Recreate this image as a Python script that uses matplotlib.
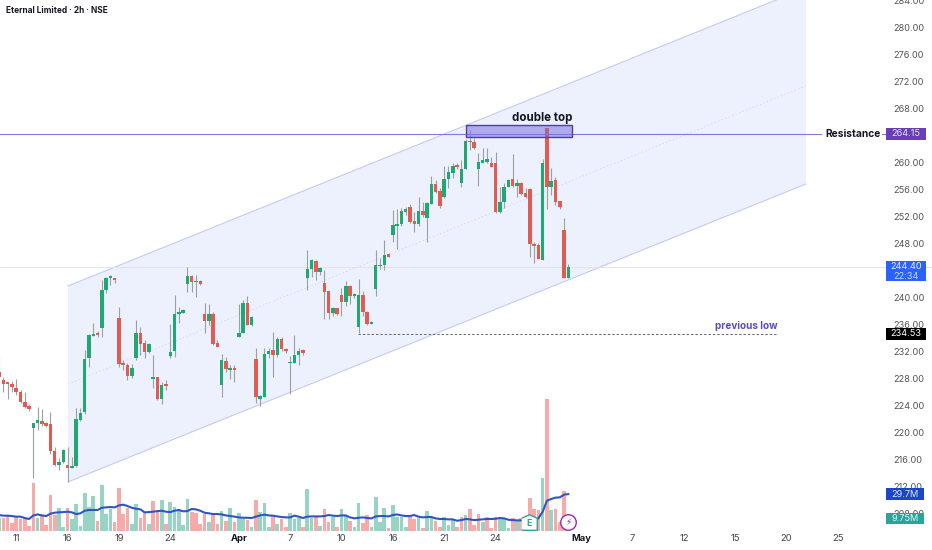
import matplotlib
matplotlib.use("Agg")
import matplotlib.pyplot as plt
from matplotlib.patches import Polygon, Rectangle

plt.rcParams['font.family'] = ['Inter', 'DejaVu Sans']

#Candles, one entry per 2h bar
######################################################################################################
highs = [231.06, 228.2, 227.36, 227.55, 227.9, 226.22, 225.93, 224.15, 221.38, 223.75,
         223.36, 221.53, 222.91, 217.83, 216.1, 217.43, 217.83, 216.35, 223.5, 223.5,
         232.15, 234.52, 236.1, 235.01, 242.52, 243.01, 243.26, 242.76, 238.47, 230.67,
         230.17, 230.02, 236.59, 235.6, 233.63, 233.14, 231.41, 228.2, 227.46, 227.7,
         235.95, 240.3, 238.47, 238.17, 244.49, 243.26, 243.26, 242.52, 239.06, 238.96,
         237.83, 233.63, 231.51, 231.16, 229.92, 229.92, 238.97, 239.56, 240.15, 237.19,
         232.4, 225.49, 232.4, 232.4, 234.77, 234.03, 234.03, 232.4, 231.26, 234.37,
         232.4, 232.25, 246.97, 245.58, 245.48, 244.5, 244.0, 240.94, 238.57, 238.32,
         241.39, 242.37, 241.78, 240.65, 242.62, 240.89, 237.98, 236.45, 246.97, 245.73,
         248.45, 246.47, 252.89, 252.99, 253.14, 253.29, 253.78, 252.65, 254.87, 254.13,
         254.13, 257.93, 257.34, 256.1, 259.41, 259.41, 259.81, 259.81, 260.3, 263.41,
         264.75, 263.51, 261.29, 262.03, 262.03, 260.8, 261.54, 256.35, 256.84, 257.44,
         261.19, 257.49, 257.09, 256.1, 256.1, 248.2, 247.96, 260.4, 265.09, 259.07,
         257.73, 254.28, 251.66, 244.89]
lows = [227.95, 225.97, 224.84, 225.97, 225.48, 224.25, 223.6, 223.16, 213.14, 220.3,
        220.94, 220.79, 216.74, 214.96, 214.37, 215.46, 212.64, 214.62, 214.86, 221.68,
        222.67, 229.68, 234.22, 234.02, 234.02, 240.54, 241.78, 242.12, 229.68, 229.18,
        227.7, 227.95, 230.67, 231.41, 231.01, 231.65, 226.47, 224.74, 224.15, 226.22,
        230.91, 231.06, 236.1, 237.58, 240.79, 240.69, 240.05, 241.78, 234.62, 235.85,
        232.89, 232.54, 225.24, 228.94, 227.85, 227.46, 234.03, 234.62, 235.86, 235.71,
        224.35, 223.86, 225.14, 231.02, 228.1, 231.07, 232.05, 231.76, 225.63, 230.18,
        229.93, 231.41, 241.04, 242.92, 242.52, 243.26, 236.69, 236.69, 237.19, 237.34,
        237.19, 238.67, 238.97, 239.9, 234.62, 237.19, 235.86, 235.95, 240.15, 244.15,
        244.0, 245.88, 248.2, 247.12, 250.52, 252.15, 250.92, 249.68, 250.52, 251.91,
        248.2, 253.78, 255.46, 253.14, 254.62, 256.2, 257.59, 258.97, 256.25, 258.97,
        261.78, 261.93, 256.45, 259.81, 259.91, 259.22, 252.5, 252.4, 253.14, 256.25,
        256.25, 254.77, 255.12, 254.62, 245.98, 245.0, 245.59, 245.49, 252.99, 255.12,
        253.64, 253.04, 242.77, 242.77]
opens = [228.94, 227.65, 227.21, 227.11, 226.47, 225.93, 224.49, 223.85, 220.64, 221.28,
         221.63, 221.38, 221.14, 217.19, 215.16, 215.56, 215.16, 214.67, 214.96, 221.78,
         222.91, 230.91, 234.27, 234.72, 235.41, 241.04, 242.86, 242.76, 236.89, 230.07,
         229.92, 228.3, 230.91, 234.67, 233.14, 231.8, 227.9, 228.1, 224.94, 227.01,
         231.26, 232.05, 237.43, 237.68, 241.88, 243.11, 242.17, 242.42, 237.53, 236.49,
         237.53, 233.14, 226.91, 230.52, 229.23, 229.48, 234.08, 234.72, 239.06, 235.86,
         230.82, 224.89, 225.24, 231.61, 232.1, 231.41, 233.78, 232.3, 230.18, 230.28,
         231.41, 232.1, 242.82, 244.1, 245.34, 243.66, 242.03, 240.89, 237.63, 238.32,
         240.35, 239.26, 241.63, 240.15, 235.61, 240.3, 237.83, 236.05, 241.24, 244.55,
         244.7, 246.33, 249.19, 250.57, 250.77, 252.65, 253.29, 251.22, 250.87, 252.7,
         251.76, 253.83, 256.7, 255.76, 254.87, 257.44, 258.42, 259.46, 256.94, 259.02,
         263.12, 262.92, 258.92, 259.91, 259.96, 259.91, 259.86, 252.65, 254.13, 256.35,
         257.49, 256.5, 256.94, 255.46, 255.96, 247.81, 247.66, 245.54, 264.99, 256.25,
         257.29, 254.18, 249.93, 242.87]
closes = [228.2, 227.06, 227.11, 226.62, 225.88, 224.49, 223.75, 223.36, 221.33, 221.73,
          221.23, 220.94, 217.19, 215.16, 215.61, 217.38, 214.62, 215.01, 221.98, 222.76,
          230.81, 234.32, 234.57, 234.37, 241.04, 242.86, 242.96, 242.57, 230.07, 229.92,
          228.35, 229.48, 234.67, 233.04, 231.8, 233.04, 228.1, 224.94, 226.96, 226.81,
          231.85, 237.48, 237.78, 238.07, 243.06, 242.17, 242.37, 241.88, 236.49, 237.53,
          233.04, 232.59, 230.67, 229.33, 229.38, 229.13, 234.67, 239.16, 235.9, 236.99,
          225.14, 225.34, 231.61, 232.0, 231.46, 233.78, 232.25, 232.0, 230.37, 231.41,
          232.05, 231.76, 244.15, 245.43, 243.66, 244.35, 240.79, 237.68, 238.37, 237.48,
          239.26, 241.63, 240.15, 240.25, 240.25, 237.83, 236.0, 236.35, 244.69, 244.7,
          246.18, 245.98, 250.62, 250.82, 252.75, 252.99, 251.17, 250.82, 252.8, 252.15,
          253.88, 256.7, 255.61, 253.49, 257.49, 258.47, 259.46, 259.26, 258.97, 263.12,
          262.92, 262.13, 260.0, 260.35, 260.4, 259.31, 252.65, 254.13, 256.35, 257.34,
          256.4, 256.94, 255.31, 254.87, 247.81, 247.51, 245.64, 259.91, 256.35, 257.19,
          254.13, 253.34, 242.87, 244.45]

#Volume in millions with its own colouring, and the moving average on top
######################################################################################################
volumes = [10.0, 10.0, 12.7, 5.9, 11.4, 9.5, 9.5, 3.8, 38.4, 10.0,
           12.7, 4.6, 28.9, 12.7, 18.1, 3.2, 18.6, 9.5, 21.4, 3.8,
           30.3, 19.5, 28.1, 7.8, 37.0, 13.5, 17.3, 6.8, 34.3, 13.5,
           18.1, 5.1, 21.6, 10.0, 15.4, 5.4, 24.1, 15.4, 24.9, 5.1,
           23.5, 18.9, 16.2, 4.6, 25.4, 15.4, 14.6, 5.4, 13.5, 6.8,
           12.7, 5.1, 15.9, 8.1, 18.6, 7.3, 14.1, 9.2, 8.6, 2.7,
           24.9, 15.4, 22.2, 3.2, 12.7, 5.4, 9.2, 3.2, 14.6, 9.2,
           10.0, 2.7, 33.5, 10.0, 11.4, 3.8, 17.3, 6.8, 11.4, 2.7,
           17.3, 11.9, 8.1, 2.7, 22.2, 5.9, 12.4, 2.7, 27.3, 6.8,
           18.4, 1.9, 20.5, 11.4, 11.4, 3.2, 11.4, 9.7, 10.0, 1.9,
           16.2, 11.4, 8.1, 2.7, 11.4, 4.6, 9.2, 2.7, 10.8, 12.7,
           17.3, 4.6, 13.2, 7.0, 11.4, 1.9, 11.4, 10.0, 9.2, 1.9,
           10.5, 8.1, 10.0, 7.3, 26.8, 17.3, 16.8, 42.7, 106.8, 16.8,
           17.6, 7.3, 32.2, 3.8]
volume_sides = ("grrrrrrrrg" "rrrrggrggg" "gggrgggrrr" "rggrrgrrgr" "gggggrrrrg"
                "rrgrgrggrg" "rgggrgrrgg" "grggrgrrgr" "ggrggrrggg" "grggggrrgr"
                "ggrrgggrrg" "rrrgrrrggg" "rgrrrrrgrg" "rrrg")
volume_ma = [12.7, 12.2, 12.2, 11.9, 11.4, 11.4, 10.3, 9.5, 12.4, 13.2,
             12.4, 11.9, 13.8, 14.6, 14.9, 15.1, 15.4, 14.9, 13.5, 14.1,
             16.2, 16.8, 16.8, 16.8, 18.6, 18.9, 19.2, 18.9, 20.5, 21.1,
             20.0, 18.6, 17.8, 17.3, 14.9, 15.1, 15.4, 15.9, 16.2, 15.4,
             15.1, 16.2, 16.8, 15.7, 15.9, 17.6, 17.3, 16.2, 14.6, 14.1,
             13.5, 13.5, 13.2, 12.4, 11.9, 11.4, 10.8, 10.5, 10.5, 10.3,
             11.4, 12.4, 13.0, 12.4, 12.2, 11.6, 11.1, 10.8, 10.8, 12.2,
             11.4, 10.3, 11.4, 11.6, 11.6, 11.6, 11.9, 12.7, 12.2, 11.9,
             12.4, 12.4, 10.8, 10.0, 10.5, 10.8, 10.3, 10.0, 11.6, 11.9,
             11.9, 11.6, 12.7, 13.2, 12.4, 11.9, 11.9, 12.7, 11.4, 10.8,
             11.1, 11.1, 10.0, 9.5, 9.5, 9.2, 9.2, 8.1, 8.6, 9.5,
             9.2, 8.6, 8.9, 9.2, 9.5, 9.5, 9.7, 10.3, 10.0, 8.9,
             8.6, 8.4, 8.4, 8.4, 8.4, 8.4, 10.0, 15.4, 24.3, 25.7,
             26.8, 27.0, 29.2, 29.7]

#Axis labels and drawn levels
######################################################################################################
price_ticks = [208, 212, 216, 220, 224, 228, 232, 236, 240, 248, 252, 256, 260,
               268, 272, 276, 280, 284]
date_positions = [4, 16, 28, 40, 56, 68, 80, 92, 104, 116, 136, 148, 160, 172, 184, 196]
date_labels = ['11', '16', '19', '24', 'Apr', '7', '10', '16', '21', '24', 'May', '7', '12', '15', '20', '25']

resistance = 264.15
last_price = 244.40
previous_low = 234.53
volume_ma_last = 29.7
volume_last = 9.75

channel_left, channel_right = 16.1, 188.5
channel_low = (212.6, 256.74)
channel_mid = (227.1, 271.26)
channel_high = (241.63, 285.78)
double_top = (109.1, 133.9, 263.7, 265.48)

GREEN = '#1fa971'
RED = '#e15b52'
WICK = '#98a3a1'
VOL_GREEN = '#98d4c6'
VOL_RED = '#f7aaaa'
PURPLE = '#8478de'


def px(x):
    # picture pixel column to candle number, only used to place labels
    return (x + 0.9) / 4.28


fig = plt.figure(figsize=(9.32, 5.5), dpi=100)
ax = fig.add_axes([0, 0, 1, 1])
ax2 = ax.twinx()
ax.set_xlim(0.21, 217.97)
ax.set_ylim(202.52, 284)
for s in ax.spines.values():
    s.set_visible(False)

#Channel
######################################################################################################
ax.add_patch(Polygon([(channel_left, channel_low[0]), (channel_right, channel_low[1]),
                      (channel_right, channel_high[1]), (channel_left, channel_high[0])],
                     closed=True, facecolor='#edf1fe', edgecolor='none', zorder=1))
ax.plot([channel_left, channel_right], channel_low, color='#c3ccf3', lw=0.8, zorder=1.5)
ax.plot([channel_left, channel_right], channel_high, color='#c3ccf3', lw=0.8, zorder=1.5)
ax.plot([channel_left, channel_right], channel_mid, color='#ced6f4', lw=0.6, ls=(0, (1.5, 3)), zorder=1.5)

#Levels
######################################################################################################
ax.axhline(last_price, color='#dfe3ef', lw=0.7, zorder=1.6)
ax.plot([px(0), px(821)], [resistance, resistance], color=PURPLE, lw=0.8, zorder=1.7)
ax.plot([px(882), px(886)], [resistance, resistance], color=PURPLE, lw=0.8, zorder=1.7)
ax.plot([px(358), px(778)], [previous_low, previous_low], color='#666666', lw=0.7, ls=(0, (2.5, 2)), zorder=1.7)

#Candles
######################################################################################################
n = len(closes)
candle_x = list(range(n))
candle_colors = [GREEN if c >= o else RED for o, c in zip(opens, closes)]
ax.vlines(candle_x, lows, highs, color=WICK, lw=0.8, zorder=2)
ax.bar(candle_x, [max(abs(c - o), 0.25) for o, c in zip(opens, closes)],
       bottom=[min(o, c) for o, c in zip(opens, closes)], width=0.82,
       color=candle_colors, zorder=3)

ax.add_patch(Rectangle((double_top[0], double_top[2]), double_top[1] - double_top[0],
                       double_top[3] - double_top[2], facecolor='#7d6ee0', alpha=0.55,
                       edgecolor='none', zorder=4))
ax.add_patch(Rectangle((double_top[0], double_top[2]), double_top[1] - double_top[0],
                       double_top[3] - double_top[2], facecolor='none',
                       edgecolor='#4a3cb4', lw=1.0, zorder=4))
ax.text(px(542), 266.55, 'double top', fontsize=8.3, fontweight='bold', color='#131722',
        ha='center', va='center', zorder=5)
ax.text(px(746), 235.7, 'previous low', fontsize=7.2, fontweight='bold', color='#5a4bc0',
        ha='center', va='center', zorder=5)
ax.text(px(853), resistance, 'Resistance', fontsize=7.4, fontweight='bold', color='#131722',
        ha='center', va='center', zorder=5)
ax.text(px(6), 282.4, 'Eternal Limited · 2h · NSE', fontsize=6.0, fontweight='bold',
        color='#131722', ha='left', va='center', zorder=5)

#Axis text
######################################################################################################
ax.yaxis.tick_right()
ax.set_yticks(price_ticks)
ax.set_yticklabels(['%.2f' % p for p in price_ticks])
ax.tick_params(axis='y', length=0, pad=-28, labelsize=6.6, labelcolor='#555555')
ax.set_xticks(date_positions)
ax.set_xticklabels(date_labels)
ax.tick_params(axis='x', length=0, pad=-11.5, labelsize=6.8, labelcolor='#444444')
for lab in ax.get_xticklabels():
    if lab.get_text() in ('Apr', 'May'):
        lab.set_fontweight('bold')
        lab.set_color('#131722')

#Price labels on the right
######################################################################################################
ax.add_patch(Rectangle((px(886), resistance - 0.85), px(926) - px(886), 1.7, facecolor='#6a3fb5',
                       edgecolor='none', zorder=6))
ax.text(px(906), resistance, '264.15', fontsize=6.6, color='#e9e1f7', ha='center', va='center', zorder=7)
ax.add_patch(Rectangle((px(886), last_price - 2.05), px(926) - px(886), 3.05, facecolor='#2962ff',
                       edgecolor='none', zorder=6))
ax.text(px(906), last_price + 0.15, '%.2f' % last_price, fontsize=6.6, color='#e6ecff', ha='center', va='center', zorder=7)
ax.text(px(906), last_price - 1.35, '22:34', fontsize=6.6, color='#c9d7ff', ha='center', va='center', zorder=7)
ax.add_patch(Rectangle((px(886), previous_low - 0.85), px(926) - px(886), 1.7, facecolor='#000000',
                       edgecolor='none', zorder=6))
ax.text(px(906), previous_low, '%.2f' % previous_low, fontsize=6.6, color='#ffffff', ha='center', va='center', zorder=7)

#Volume pane on the twin axis
######################################################################################################
ax2.set_ylim(-15.6, 429.7)
ax2.axis('off')
vol_colors = [VOL_GREEN if s == 'g' else VOL_RED for s in volume_sides]
ax2.bar(candle_x, volumes, width=0.85, color=vol_colors, zorder=2)
ax2.plot(candle_x, volume_ma, color='#2f55c4', lw=1.5, zorder=3)

ax2.add_patch(Rectangle((px(886), volume_ma_last - 4.6), px(924) - px(886), 9.2, facecolor='#1c46c9',
                        edgecolor='none', zorder=6))
ax2.text(px(905), volume_ma_last, '%.1fM' % volume_ma_last, fontsize=6.6, color='#dfe6fb',
         ha='center', va='center', zorder=7)
ax2.add_patch(Rectangle((px(886), volume_last - 4.6), px(924) - px(886), 9.2, facecolor='#26a69a',
                        edgecolor='none', zorder=6))
ax2.text(px(905), volume_last, '%.2fM' % volume_last, fontsize=6.6, color='#e6f6f3',
         ha='center', va='center', zorder=7)

#Earnings and news badges
######################################################################################################
ax2.scatter([px(529)], [7], marker=[(-1, -1), (1, -1), (1, 0.55), (0, 1), (-1, 0.55)], s=125,
            facecolor='#ffffff', edgecolor='#26a69a', lw=1.0, zorder=8)
ax2.text(px(529), 6.2, 'E', fontsize=6.2, fontweight='bold', color='#26a69a', ha='center', va='center', zorder=9)
ax2.scatter([px(568)], [7], marker='o', s=125, facecolor='#ffffff', edgecolor='#9c27b0', lw=1.0, zorder=8)
ax2.text(px(568), 7, '\u26a1', fontsize=6.5, color='#9c27b0', ha='center', va='center',
         family='DejaVu Sans', zorder=9)

fig.savefig('out.png', dpi=100)
